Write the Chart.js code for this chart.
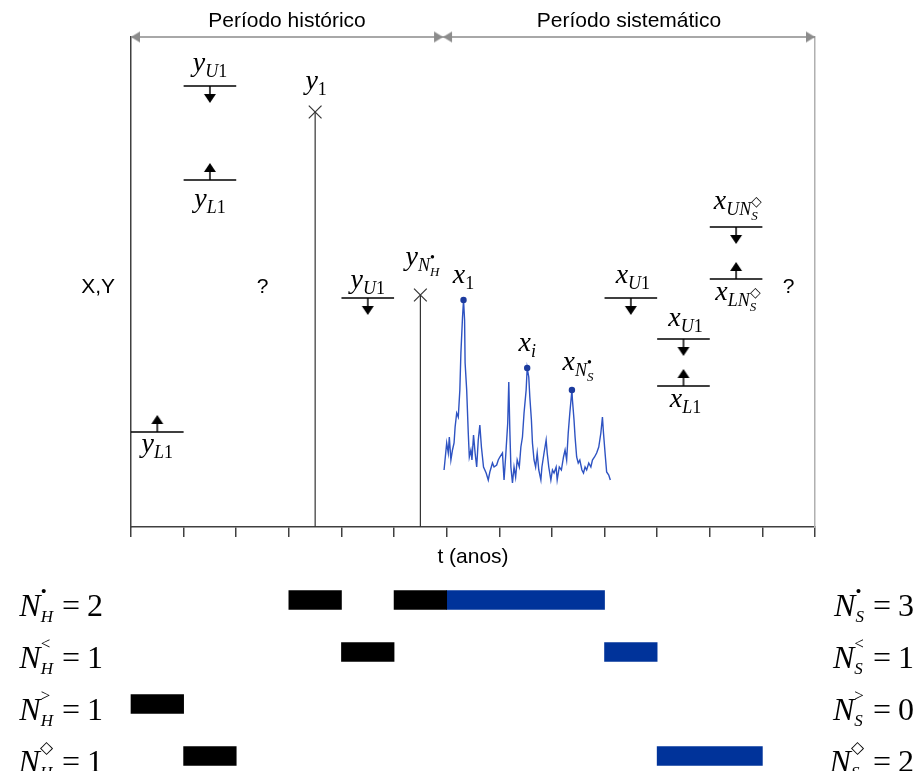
<!DOCTYPE html>
<html><head><meta charset="utf-8">
<script src="https://cdn.jsdelivr.net/npm/chart.js@4/dist/chart.umd.min.js"></script>
<style>
html,body{margin:0;padding:0;background:#fff;overflow:hidden;}
#wrap{position:relative;width:917px;height:771px;background:#fff;}
#c1{position:absolute;left:0;top:0;}
#c2{position:absolute;left:0;top:570px;}
</style></head><body>
<div id="wrap"><canvas id="c1" width="917" height="570"></canvas><canvas id="c2" width="917" height="201"></canvas></div>
<script>
// ---------------- DATA ----------------
const axisMaxT = 130;          // time axis (ticks every 10)
const axisMaxV = 490;          // magnitude axis
const tickStep = 10;
const periodLabels = ['Período histórico', 'Período sistemático'];
const periodBounds = [[0, 59.3], [59.3, 130]];
// historical point observations (y1, yNH)
const histPeakT = [35, 55];
const histPeakV = [415, 232];
// historical censoring thresholds
const histUpperT = [[10, 20], [40, 50]];
const histUpperV = [441, 229];
const histLowerT = [[10, 20], [0, 10]];
const histLowerV = [347, 95];
// systematic censoring thresholds
const sysUpperT = [[90, 100], [100, 110], [110, 120]];
const sysUpperV = [229, 188, 300];
const sysLowerT = [[100, 110], [110, 120]];
const sysLowerV = [141, 248];
// systematic series
const sysT = [59.5,60.0,60.3,60.5,60.8,61.1,61.4,61.6,61.9,62.2,62.5,62.7,63.0,63.2,63.4,63.5,63.8,64.1,64.3,64.6,
  64.8,65.1,65.4,65.7,66.0,66.3,66.6,67.0,67.5,67.9,68.2,68.7,69.0,69.5,69.8,70.1,70.6,70.9,71.2,71.6,
  71.8,72.0,72.2,72.5,72.8,73.1,73.4,73.8,74.1,74.4,74.7,75.1,75.3,75.6,75.8,76.1,76.3,76.6,76.9,77.2,
  77.5,77.9,78.1,78.5,78.9,79.1,79.4,79.8,80.1,80.4,80.8,81.0,81.4,81.8,82.2,82.5,82.8,83.1,83.4,83.8,
  83.9,84.2,84.4,84.7,85.0,85.3,85.7,86.0,86.3,86.6,87.0,87.4,87.7,88.1,88.5,88.9,89.3,89.6,89.8,90.1,
  90.4,90.8,91.1];
const sysX = [57,84,74,90,67,77,84,100,114,110,137,174,209,227,207,164,137,94,70,77,
  67,92,74,60,87,102,80,60,54,47,55,64,60,62,67,70,74,47,70,104,
  145,97,60,44,60,50,67,60,80,90,114,137,159,150,130,107,84,67,60,74,
  57,47,60,74,87,74,60,47,57,54,60,47,60,57,70,77,67,94,114,137,
  127,107,90,70,64,67,57,54,60,57,64,60,67,70,74,80,94,110,94,74,
  55,52,47];
const sysPeakIdx = [13, 52, 79];
const unknownT = [25, 125];
const unknownV = [240, 240];
// counts and interval bars
const rowKeys = ['•', '<', '>', '◇'];
const histCounts = [2, 1, 1, 1];
const sysCounts = [3, 1, 0, 2];
const histBarsA = [[30, 40], [40, 50], [0, 10], [10, 20]];
const histBarsB = [[50, 60], null, null, null];
const sysBars = [[60, 90], [90, 100], null, [100, 120]];

// ---------------- HELPERS ----------------
const SERIF = '"Liberation Serif","Times New Roman",serif';
const SANS = '"Liberation Sans",Arial,sans-serif';
const STY = {
  M:{size:28,it:1,dy:0}, Si:{size:18,it:1,dy:6}, Sr:{size:18,it:0,dy:6},
  SSi:{size:13,it:1,dy:11}, SSup:{size:14,it:0,dy:-3},
  BM:{size:32,it:1,dy:0}, BR:{size:32,it:0,dy:0}, BSi:{size:17,it:1,dy:6}, BSup:{size:17,it:0,dy:-19}
};
function tok(s){ const p = s.split('|'); return Object.assign({t:p[0]}, STY[p[1]]); }
function norm(item){ if (typeof item === 'number') return {gap:item}; if (Array.isArray(item)) return {stack:item.map(tok)}; return tok(item); }
function fontOf(r){ return (r.it ? 'italic ' : '') + r.size + 'px ' + SERIF; }
function widthOf(ctx, r){
  if (r.gap !== undefined) return r.gap;
  if (r.stack) return Math.max.apply(null, r.stack.map(s => widthOf(ctx, s)));
  ctx.font = fontOf(r); return ctx.measureText(r.t).width;
}
function drawMath(ctx, items, x, base, align){
  const runs = items.map(norm);
  const ws = runs.map(r => widthOf(ctx, r));
  const total = ws.reduce((a, b) => a + b, 0);
  let cx = align === 'center' ? x - total / 2 : align === 'right' ? x - total : x;
  ctx.textAlign = 'left'; ctx.textBaseline = 'alphabetic'; ctx.fillStyle = '#000';
  runs.forEach((r, i) => {
    if (r.stack) r.stack.forEach(s => { ctx.font = fontOf(s); ctx.fillText(s.t, cx, base + s.dy); });
    else if (r.gap === undefined) { ctx.font = fontOf(r); ctx.fillText(r.t, cx, base + r.dy); }
    cx += ws[i];
  });
}
// arrow glyph: stem starts at image centre
function vArrow(dir, stem, head, w, color){
  const L = stem + head, c = document.createElement('canvas');
  c.width = Math.ceil(w) + 2; c.height = 2 * L + 2;
  const g = c.getContext('2d'), cx = c.width / 2, cy = c.height / 2, s = dir === 'down' ? 1 : -1;
  g.strokeStyle = color; g.lineWidth = 1.5;
  g.beginPath(); g.moveTo(cx, cy); g.lineTo(cx, cy + s * (stem + 1)); g.stroke();
  g.fillStyle = color; g.beginPath();
  g.moveTo(cx - w / 2, cy + s * stem); g.lineTo(cx + w / 2, cy + s * stem); g.lineTo(cx, cy + s * L); g.closePath(); g.fill();
  return c;
}
// horizontal arrowhead: tip at image centre
function hHead(dir, len, h, color){
  const c = document.createElement('canvas');
  c.width = 2 * len + 2; c.height = h + 2;
  const g = c.getContext('2d'), cx = c.width / 2, cy = c.height / 2, s = dir === 'right' ? 1 : -1;
  g.fillStyle = color; g.beginPath();
  g.moveTo(cx, cy); g.lineTo(cx - s * len, cy - h / 2); g.lineTo(cx - s * len, cy + h / 2); g.closePath(); g.fill();
  return c;
}
const downG = vArrow('down', 8, 9, 12, '#000');
const upG = vArrow('up', 8, 9, 12, '#000');
const leftH = hHead('left', 9, 11, '#8c8c8c');
const rightH = hHead('right', 9, 11, '#8c8c8c');

const segs = (ivs, vals) => ivs.flatMap((iv, i) => [{x:iv[0], y:vals[i]}, {x:iv[1], y:vals[i]}, {x:iv[1], y:null}]);
const mids = (ivs, vals) => ivs.map((iv, i) => ({x:(iv[0] + iv[1]) / 2, y:vals[i]}));

const anchors = {
  histUpper: i => ({t:(histUpperT[i][0] + histUpperT[i][1]) / 2, v:histUpperV[i]}),
  histLower: i => ({t:(histLowerT[i][0] + histLowerT[i][1]) / 2, v:histLowerV[i]}),
  sysUpper: i => ({t:(sysUpperT[i][0] + sysUpperT[i][1]) / 2, v:sysUpperV[i]}),
  sysLower: i => ({t:(sysLowerT[i][0] + sysLowerT[i][1]) / 2, v:sysLowerV[i]}),
  histPeak: i => ({t:histPeakT[i], v:histPeakV[i]}),
  sysPeak: i => ({t:sysT[sysPeakIdx[i]], v:sysX[sysPeakIdx[i]]})
};
const mathLabels = [
  {ref:['histUpper',0], dx:0, dy:-15, runs:['y|M','U|Si','1|Sr']},
  {ref:['histLower',0], dx:0, dy:27, runs:['y|M','L|Si','1|Sr']},
  {ref:['histLower',1], dx:0, dy:20, runs:['y|M','L|Si','1|Sr']},
  {ref:['histUpper',1], dx:0, dy:-10, runs:['y|M','U|Si','1|Sr']},
  {ref:['histPeak',0], dx:1, dy:-23, runs:['y|M','1|Sr']},
  {ref:['histPeak',1], dx:2, dy:-30, runs:['y|M','N|Si',['H|SSi','•|SSup']]},
  {ref:['sysPeak',0], dx:0, dy:-17, runs:['x|M','1|Sr']},
  {ref:['sysPeak',1], dx:0, dy:-17, runs:['x|M','i|Si']},
  {ref:['sysPeak',2], dx:6, dy:-20, runs:['x|M','N|Si',['S|SSi','•|SSup']]},
  {ref:['sysUpper',0], dx:2, dy:-15, runs:['x|M','U|Si','1|Sr']},
  {ref:['sysUpper',1], dx:2, dy:-13, runs:['x|M','U|Si','1|Sr']},
  {ref:['sysLower',0], dx:2, dy:21, runs:['x|M','L|Si','1|Sr']},
  {ref:['sysUpper',2], dx:2, dy:-18, runs:['x|M','UN|Si',['S|SSi','◇|SSup']]},
  {ref:['sysLower',1], dx:2, dy:21, runs:['x|M','LN|Si',['S|SSi','◇|SSup']]}
];

// ---------------- CHART 1 ----------------
const textPlugin = {
  id:'texts',
  afterDatasetsDraw(chart){
    const {ctx, chartArea, scales:{x, y}} = chart;
    ctx.save();
    ctx.fillStyle = '#000';
    ctx.font = '21px ' + SANS; ctx.textAlign = 'center'; ctx.textBaseline = 'middle';
    periodLabels.forEach((s, i) => {
      const a = x.getPixelForValue(periodBounds[i][0]), b = x.getPixelForValue(periodBounds[i][1]);
      ctx.fillText(s, (a + b) / 2, chartArea.top - 16);
    });
    unknownT.forEach((t, i) => ctx.fillText('?', x.getPixelForValue(t), y.getPixelForValue(unknownV[i])));
    ctx.textAlign = 'right';
    ctx.fillText('X,Y', chartArea.left - 16, y.getPixelForValue(unknownV[0]));
    mathLabels.forEach(l => {
      const a = anchors[l.ref[0]](l.ref[1]);
      drawMath(ctx, l.runs, x.getPixelForValue(a.t) + l.dx, y.getPixelForValue(a.v) + l.dy, 'center');
    });
    ctx.restore();
  }
};

new Chart(document.getElementById('c1'), {
  type:'scatter',
  data:{datasets:[
    {data:sysPeakIdx.map(i => ({x:sysT[i], y:sysX[i]})), pointRadius:3.2, pointBackgroundColor:'#1c3b9e', pointBorderWidth:0, showLine:false, clip:false},
    {data:sysT.map((t, i) => ({x:t, y:sysX[i]})), showLine:true, borderColor:'#2e53c2', borderWidth:1.4, pointRadius:0, tension:0, clip:false},
    {data:periodBounds.flatMap(iv => [{x:iv[0], y:axisMaxV}, {x:iv[1], y:axisMaxV}]), showLine:false, pointRadius:5, pointStyle:[leftH, rightH, leftH, rightH], clip:false},
    {data:segs(periodBounds, [axisMaxV, axisMaxV]), showLine:true, borderColor:'#8c8c8c', borderWidth:1.5, pointRadius:0, spanGaps:false, clip:false},
    {data:histPeakT.map((t, i) => ({x:t, y:histPeakV[i]})), showLine:false, pointStyle:'crossRot', pointRadius:9, pointBorderColor:'#333', pointBorderWidth:1.2, clip:false},
    {data:histPeakT.flatMap((t, i) => [{x:t, y:0}, {x:t, y:histPeakV[i]}, {x:t, y:null}]), showLine:true, borderColor:'#333', borderWidth:1.2, pointRadius:0, spanGaps:false, clip:false},
    {data:mids(histUpperT, histUpperV).concat(mids(sysUpperT, sysUpperV)), showLine:false, pointRadius:5, pointStyle:downG, clip:false},
    {data:mids(histLowerT, histLowerV).concat(mids(sysLowerT, sysLowerV)), showLine:false, pointRadius:5, pointStyle:upG, clip:false},
    {data:segs(histUpperT, histUpperV).concat(segs(histLowerT, histLowerV), segs(sysUpperT, sysUpperV), segs(sysLowerT, sysLowerV)),
      showLine:true, borderColor:'#000', borderWidth:1.5, pointRadius:0, spanGaps:false, clip:false}
  ]},
  options:{
    responsive:false, animation:false, devicePixelRatio:1, events:[],
    layout:{padding:{left:0, right:102, top:37, bottom:0}, autoPadding:false},
    plugins:{legend:{display:false}, tooltip:{enabled:false}},
    scales:{
      x:{type:'linear', position:'bottom', min:0, max:axisMaxT,
        ticks:{stepSize:tickStep, display:false},
        grid:{display:true, drawOnChartArea:false, drawTicks:true, tickLength:10, color:'#404040', lineWidth:1.5},
        border:{display:true, color:'#404040', width:1.5},
        title:{display:true, text:'t (anos)', color:'#000', font:{family:SANS, size:21}, padding:{top:0, bottom:0}},
        afterFit(s){ s.height = 43; }},
      y:{type:'linear', position:'left', min:0, max:axisMaxV,
        ticks:{display:false}, grid:{display:false},
        border:{display:true, color:'#404040', width:1.5},
        afterFit(s){ s.width = 131; }},
      y2:{type:'linear', position:'right', min:0, max:axisMaxV,
        ticks:{display:false}, grid:{display:false},
        border:{display:true, color:'#b0b0b0', width:1.5},
        afterFit(s){ s.width = 0; }}
    }
  },
  plugins:[textPlugin]
});

// ---------------- CHART 2 ----------------
const countPlugin = {
  id:'counts',
  afterDatasetsDraw(chart){
    const {ctx, scales:{y}} = chart;
    ctx.save();
    rowKeys.forEach((k, i) => {
      const base = y.getPixelForValue(i) + 16;
      drawMath(ctx, ['N|BM', ['H|BSi', k + '|BSup'], 9, '=|BR', 7, String(histCounts[i]) + '|BR'], 103, base, 'right');
      drawMath(ctx, ['N|BM', ['S|BSi', k + '|BSup'], 9, '=|BR', 7, String(sysCounts[i]) + '|BR'], 914, base, 'right');
    });
    ctx.restore();
  }
};
new Chart(document.getElementById('c2'), {
  type:'bar',
  data:{labels:rowKeys, datasets:[
    {data:histBarsA, backgroundColor:'#000', barThickness:19, grouped:false, clip:false},
    {data:histBarsB, backgroundColor:'#000', barThickness:19, grouped:false, clip:false},
    {data:sysBars, backgroundColor:'#00339a', barThickness:19, grouped:false, clip:false}
  ]},
  options:{
    indexAxis:'y', responsive:false, animation:false, devicePixelRatio:1, events:[],
    layout:{padding:{left:131, right:102, top:30, bottom:15}, autoPadding:false},
    plugins:{legend:{display:false}, tooltip:{enabled:false}},
    scales:{
      x:{type:'linear', min:0, max:axisMaxT, display:false},
      y:{type:'category', offset:false, display:false}
    }
  },
  plugins:[countPlugin]
});
</script></body></html>
